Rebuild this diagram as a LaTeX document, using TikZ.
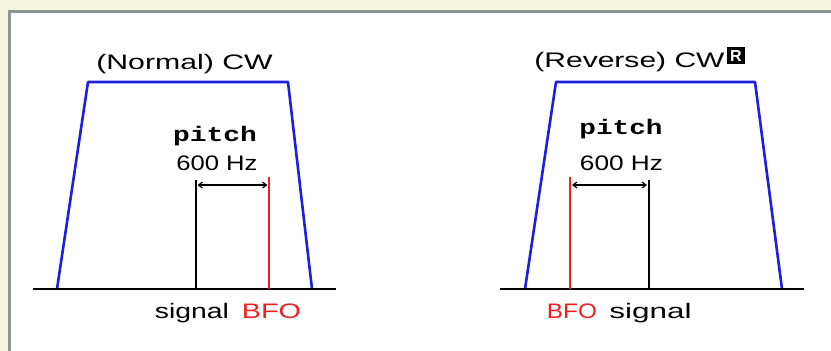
\documentclass[tikz,border=0pt]{standalone}
\usepackage{fontspec}
\setmainfont{Liberation Sans}
\newfontfamily\monob{Liberation Mono}[BoldFont={* Bold}]
\usetikzlibrary{arrows.meta}
\definecolor{bgbeige}{HTML}{F4F4DE}
\definecolor{panelgray}{HTML}{8C9494}
\definecolor{trapblue}{HTML}{1E1EDC}
\definecolor{bfored}{HTML}{F02020}
\newcommand{\sx}[2]{\scalebox{#1}[1]{#2}}
\tikzset{
  lbl/.style={anchor=base, inner sep=0pt, font=\fontsize{21}{25}\selectfont},
  pitchlbl/.style={anchor=base, inner sep=0pt, font=\fontsize{21}{25}\selectfont\monob\bfseries},
  axis/.style={line width=2pt, black},
  trap/.style={line width=2.6pt, trapblue, line join=round},
  sigline/.style={line width=1.8pt, black},
  bfoline/.style={line width=1.8pt, bfored},
  pitcharrow/.style={line width=1.2pt, {Straight Barb[length=4pt,width=6pt]}-{Straight Barb[length=4pt,width=6pt]}},
}
\begin{document}
\begin{tikzpicture}[x=1pt,y=-1pt]
\useasboundingbox (0,0) rectangle (831,351);
\fill[bgbeige] (0,0) rectangle (831,351);
\fill[white] (9.5,11.5) rectangle (831,351);
\draw[panelgray, line width=3pt] (9.5,351) -- (9.5,11.5) -- (831,11.5);

% ---------- left: normal CW ----------
\coordinate (la1) at (33,289);
\coordinate (la2) at (336,289);
\coordinate (lt1) at (57,289);
\coordinate (lt2) at (88,82);
\coordinate (lt3) at (288,82);
\coordinate (lt4) at (312,289);
\coordinate (lsb) at (196,289);
\coordinate (lst) at (196,180);
\coordinate (lbb) at (269,289);
\coordinate (lbt) at (269,177);
\coordinate (lpa) at (197.5,185);
\coordinate (lpb) at (267.5,185);

\draw[trap] (lt1) -- (lt2) -- (lt3) -- (lt4);
\draw[axis] (la1) -- (la2);
\draw[sigline] (lsb) -- (lst);
\draw[bfoline] (lbb) -- (lbt);
\draw[pitcharrow] (lpa) -- (lpb);

\node[lbl] (ltitle) at (184.5,69) {\sx{1.44}{(Normal) CW}};
\node[pitchlbl] (lpitch) at (215,141) {\sx{1.33}{pitch}};
\node[lbl] (lhz) at (217,170) {\sx{1.22}{600 Hz}};
\node[lbl] (lsig) at (192,318) {\sx{1.35}{signal}};
\node[lbl, text=bfored] (lbfo) at (271.5,318) {\sx{1.37}{BFO}};

% ---------- right: reverse CW ----------
\coordinate (ra1) at (500,289);
\coordinate (ra2) at (804,289);
\coordinate (rt1) at (525,289);
\coordinate (rt2) at (556,82);
\coordinate (rt3) at (755,82);
\coordinate (rt4) at (782,289);
\coordinate (rbb) at (570,289);
\coordinate (rbt) at (570,177);
\coordinate (rsb) at (649,289);
\coordinate (rst) at (649,180);
\coordinate (rpa) at (572,185);
\coordinate (rpb) at (647,185);

\draw[trap] (rt1) -- (rt2) -- (rt3) -- (rt4);
\draw[axis] (ra1) -- (ra2);
\draw[bfoline] (rbb) -- (rbt);
\draw[sigline] (rsb) -- (rst);
\draw[pitcharrow] (rpa) -- (rpb);

\node[lbl] (rtitle) at (629.5,67) {\sx{1.43}{(Reverse) CW}};
\node[fill=black, text=white, minimum width=18pt, minimum height=17pt, inner sep=0pt,
      font=\fontsize{16}{18}\selectfont\bfseries] (rbox) at (736,55.5) {R};
\node[pitchlbl] (rpitch) at (621,134) {\sx{1.32}{pitch}};
\node[lbl] (rhz) at (621.5,170) {\sx{1.25}{600 Hz}};
\node[lbl, text=bfored] (rbfo) at (572,318) {\sx{1.16}{BFO}};
\node[lbl] (rsig) at (650.5,318) {\sx{1.5}{signal}};
\end{tikzpicture}
\end{document}
